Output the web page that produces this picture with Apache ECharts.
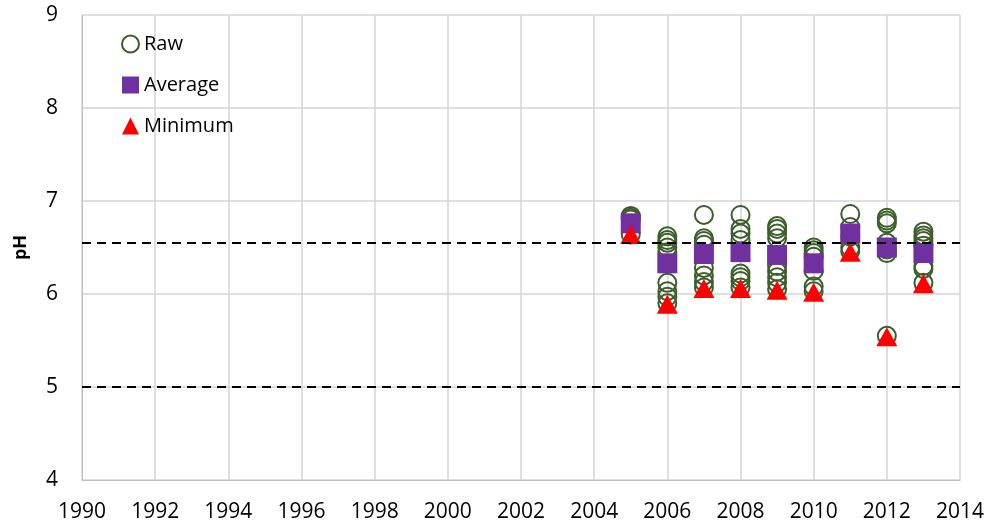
<!DOCTYPE html>
<html>
<head>
<meta charset="utf-8">
<script src="https://cdn.jsdelivr.net/npm/echarts@6/dist/echarts.min.js"></script>
<style>
html,body{margin:0;padding:0;background:#fff;}
#chart{width:992px;height:529px;}
</style>
</head>
<body>
<div id="chart"></div>
<script>
// ---- data ----
const years = [2005, 2006, 2007, 2008, 2009, 2010, 2011, 2012, 2013];
const raw2005 = [6.84, 6.82, 6.80, 6.64];
const raw2006 = [6.62, 6.58, 6.55, 6.50, 6.45, 6.12, 6.03, 5.97, 5.90];
const raw2007 = [6.85, 6.60, 6.57, 6.53, 6.28, 6.20, 6.13, 6.07];
const raw2008 = [6.85, 6.70, 6.65, 6.58, 6.22, 6.18, 6.14, 6.07];
const raw2009 = [6.73, 6.70, 6.65, 6.60, 6.30, 6.24, 6.18, 6.12, 6.05];
const raw2010 = [6.50, 6.47, 6.44, 6.40, 6.25, 6.08, 6.03];
const raw2011 = [6.86, 6.72, 6.62, 6.50, 6.46];
const raw2012 = [6.82, 6.79, 6.76, 6.55, 6.48, 6.44, 5.55];
const raw2013 = [6.67, 6.63, 6.60, 6.57, 6.52, 6.30, 6.27, 6.12];
const rawByYear = [raw2005, raw2006, raw2007, raw2008, raw2009, raw2010, raw2011, raw2012, raw2013];
const averageValues = [6.76, 6.33, 6.43, 6.45, 6.42, 6.33, 6.65, 6.50, 6.44];
const minimumValues = [6.64, 5.89, 6.06, 6.06, 6.04, 6.02, 6.45, 5.54, 6.11];
const guideLines = [6.55, 5.0];
const xMin = 1990, xMax = 2014, xStep = 2;
const yMin = 4, yMax = 9, yStep = 1;
const seriesNames = ['Raw', 'Average', 'Minimum'];
const yAxisTitle = 'pH';

// ---- build ----
const rawPoints = [];
years.forEach((yr, i) => rawByYear[i].forEach(v => rawPoints.push([yr, v])));
const avgPoints = years.map((yr, i) => [yr, averageValues[i]]);
const minPoints = years.map((yr, i) => [yr, minimumValues[i]]);

const FONT = 'Open Sans';
const chart = echarts.init(document.getElementById('chart'), null, {renderer: 'canvas'});
chart.setOption({
  animation: false,
  backgroundColor: '#fff',
  textStyle: {fontFamily: FONT},
  grid: {left: 82, right: 32, top: 15, bottom: 49, containLabel: false},
  legend: {
    orient: 'vertical', left: 116, top: 29, itemGap: 21,
    itemWidth: 17, itemHeight: 17,
    textStyle: {fontFamily: FONT, fontSize: 20, color: '#000', padding: [0, 0, 0, 0]},
    data: [
      {name: seriesNames[0], icon: 'circle', itemStyle: {color: 'transparent', borderColor: '#3b5e2b', borderWidth: 2, opacity: 1}},
      {name: seriesNames[1], icon: 'rect', itemStyle: {opacity: 1}},
      {name: seriesNames[2], icon: 'triangle', itemStyle: {opacity: 1}}
    ]
  },
  xAxis: {
    type: 'value', min: xMin, max: xMax, interval: xStep,
    axisLine: {show: true, lineStyle: {color: '#bfbfbf', width: 1}},
    axisTick: {show: false},
    splitLine: {show: true, lineStyle: {color: '#d4d4d4', width: 1.5}},
    axisLabel: {color: '#000', fontSize: 21, fontFamily: FONT, margin: 22, formatter: v => String(v)}
  },
  yAxis: {
    type: 'value', min: yMin, max: yMax, interval: yStep,
    name: yAxisTitle, nameLocation: 'middle', nameGap: 52, nameRotate: 90,
    nameTextStyle: {fontFamily: FONT, fontSize: 18, fontWeight: 'bold', color: '#000'},
    axisLine: {show: true, lineStyle: {color: '#bfbfbf', width: 1}},
    axisTick: {show: false},
    splitLine: {show: true, lineStyle: {color: '#d4d4d4', width: 1.5}},
    axisLabel: {color: '#000', fontSize: 21, fontFamily: FONT, margin: 24}
  },
  series: [
    {
      name: seriesNames[0], type: 'scatter', data: rawPoints, symbol: 'circle', symbolSize: 18,
      itemStyle: {color: 'transparent', borderColor: '#3b5e2b', borderWidth: 2, opacity: 1},
      z: 2,
      markLine: {
        silent: true, symbol: ['none', 'none'], label: {show: false},
        lineStyle: {color: '#000', type: [9, 6], width: 2, opacity: 1},
        data: guideLines.map(v => ({yAxis: v}))
      }
    },
    {
      name: seriesNames[1], type: 'scatter', data: avgPoints, symbol: 'rect', symbolSize: 20,
      itemStyle: {color: '#7030a0', opacity: 1}, z: 3
    },
    {
      name: seriesNames[2], type: 'scatter', data: minPoints, symbol: 'triangle', symbolSize: [21, 19],
      itemStyle: {color: '#ff0000', opacity: 1}, z: 4
    }
  ]
});
</script>
</body>
</html>
